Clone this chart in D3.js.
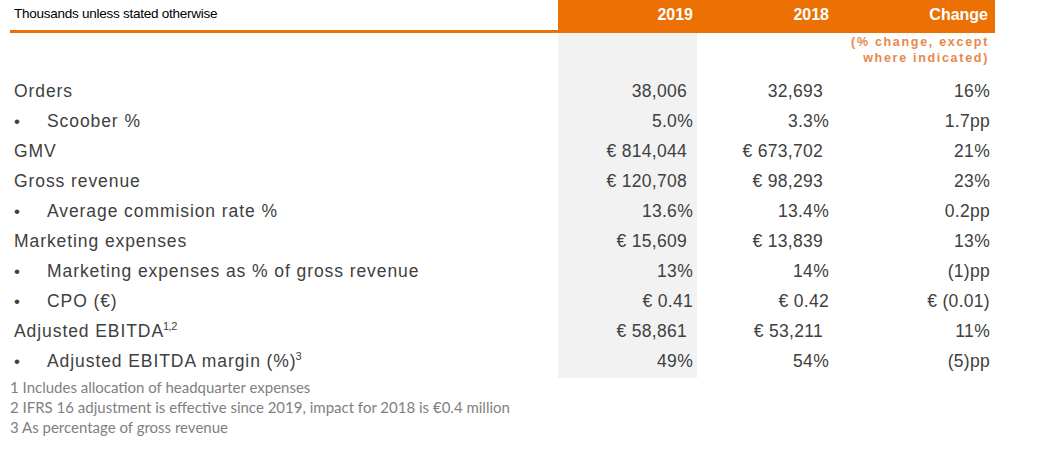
<!DOCTYPE html>
<html>
<head>
<meta charset="utf-8">
<script src="https://cdn.jsdelivr.net/npm/d3@7"></script>
<style>
  html, body { margin: 0; padding: 0; background: #ffffff; }
  svg { display: block; }
</style>
</head>
<body>
<div id="chart"></div>
<script>
// ---- data ----
const unitNote = "Thousands unless stated otherwise";
const columns = ["2019", "2018", "Change"];
const changeNote = ["(% change, except", "where indicated)"];
const labels = [
  "Orders", "Scoober %", "GMV", "Gross revenue", "Average commision rate %",
  "Marketing expenses", "Marketing expenses as % of gross revenue", "CPO (€)",
  "Adjusted EBITDA", "Adjusted EBITDA margin (%)"
];
const isSub = [false, true, false, false, true, false, true, true, false, true];
const superscripts = ["", "", "", "", "", "", "", "", "1,2", "3"];
const values2019 = ["38,006", "5.0%", "€ 814,044", "€ 120,708", "13.6%", "€ 15,609", "13%", "€ 0.41", "€ 58,861", "49%"];
const values2018 = ["32,693", "3.3%", "€ 673,702", "€ 98,293", "13.4%", "€ 13,839", "14%", "€ 0.42", "€ 53,211", "54%"];
const changes = ["16%", "1.7pp", "21%", "23%", "0.2pp", "13%", "(1)pp", "€ (0.01)", "11%", "(5)pp"];
const footnotes = [
  "1 Includes allocation of headquarter expenses",
  "2 IFRS 16 adjustment is effective since 2019, impact for 2018 is €0.4 million",
  "3 As percentage of gross revenue"
];

// ---- layout ----
const W = 1049, H = 450;
const ORANGE = "#ED7004", SUB_ORANGE = "#E8874C", TEXT = "#404040", NOTE = "#7f7f7f";
const svg = d3.select("#chart").append("svg").attr("width", W).attr("height", H);

const y = d3.scaleLinear().domain([0, labels.length - 1]).range([97, 367]);
const colRight = d3.scaleOrdinal().domain(columns).range([693, 829, 990]);
const colBand = d3.scaleOrdinal().domain(columns).range([[558, 697], [697, 835], [835, 995]]);

// grey highlight of 2019 column
svg.append("rect")
  .attr("x", colBand("2019")[0]).attr("y", 33)
  .attr("width", colBand("2019")[1] - colBand("2019")[0]).attr("height", 378 - 33)
  .attr("fill", "#f2f2f2");

// header
svg.append("rect").attr("x", 10).attr("y", 30).attr("width", 548).attr("height", 3).attr("fill", ORANGE);
svg.append("rect").attr("x", 558).attr("y", 0).attr("width", 995 - 558).attr("height", 33).attr("fill", ORANGE);
svg.append("text").attr("x", 14).attr("y", 18)
  .attr("font-family", "Liberation Sans, Arial, sans-serif").attr("font-size", 13.5)
  .attr("letter-spacing", -0.25).attr("fill", "#000").text(unitNote);

svg.selectAll("text.colhead").data(columns).join("text")
  .attr("class", "colhead")
  .attr("x", d => colRight(d) - (d === "Change" ? 2 : 0)).attr("y", 20)
  .attr("text-anchor", "end")
  .attr("font-family", "Liberation Sans, Arial, sans-serif").attr("font-weight", "bold")
  .attr("font-size", 16).attr("fill", "#fff").text(d => d);

svg.selectAll("text.cnote").data(changeNote).join("text")
  .attr("class", "cnote")
  .attr("x", 989).attr("y", (d, i) => 46 + i * 16)
  .attr("text-anchor", "end")
  .attr("font-family", "Liberation Sans, Arial, sans-serif").attr("font-weight", "bold")
  .attr("font-size", 12.5).attr("letter-spacing", 1.7).attr("fill", SUB_ORANGE).text(d => d);

// row labels
const font = "Liberation Sans, Arial, sans-serif";
const rows = svg.selectAll("g.row").data(labels).join("g").attr("class", "row");
rows.filter((d, i) => isSub[i]).append("text")
  .attr("x", 14).attr("y", (d) => y(labels.indexOf(d)))
  .attr("font-family", font).attr("font-size", 17).attr("fill", TEXT).text("•");
rows.append("text")
  .attr("x", (d, i) => isSub[i] ? 47 : 14)
  .attr("y", (d, i) => y(i))
  .attr("font-family", font).attr("font-size", 17.5).attr("letter-spacing", 0.92)
  .attr("fill", TEXT)
  .each(function(d, i) {
    const t = d3.select(this);
    t.append("tspan").text(d);
    if (superscripts[i]) {
      t.append("tspan").attr("font-size", 11).attr("letter-spacing", -0.5)
        .attr("dy", -7).attr("dx", -1).text(superscripts[i]);
    }
  });

// values
const valueCols = [["2019", values2019], ["2018", values2018], ["Change", changes]];
valueCols.forEach(([col, vals]) => {
  svg.selectAll("text.v" + col).data(vals).join("text")
    .attr("class", "v" + col)
    .attr("x", d => colRight(col) - (col !== "Change" && /,/.test(d) ? 6 : 0))
    .attr("y", (d, i) => y(i))
    .attr("text-anchor", "end")
    .attr("font-family", font).attr("font-size", 17.5).attr("letter-spacing", 0.3)
    .attr("fill", TEXT).text(d => d);
});

// footnotes
svg.selectAll("text.fn").data(footnotes).join("text")
  .attr("class", "fn")
  .attr("x", 10).attr("y", (d, i) => 393 + i * 20)
  .attr("font-family", "Lato, Open Sans, sans-serif").attr("font-size", 15)
  .attr("fill", NOTE).text(d => d);
</script>
</body>
</html>
